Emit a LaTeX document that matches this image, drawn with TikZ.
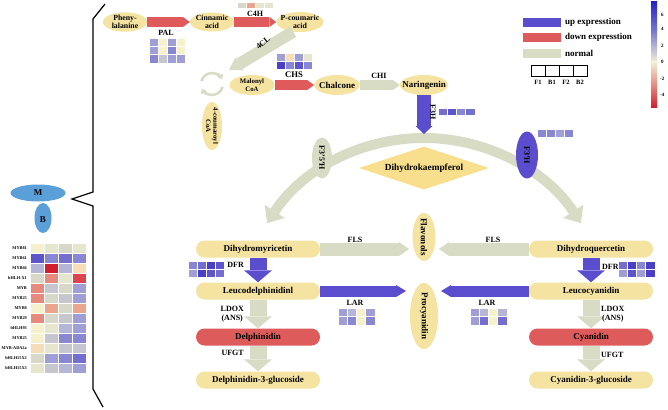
\documentclass[tikz,border=0pt]{standalone}
\usepackage{fontspec}
\setmainfont{Liberation Serif}
\usetikzlibrary{shapes.geometric,arrows.meta,calc}

\definecolor{cpdyel}{HTML}{F5E3A2}
\definecolor{diayel}{HTML}{F7DF8E}
\definecolor{arrred}{HTML}{DF5A5A}
\definecolor{arrgrey}{HTML}{D9DCC5}
\definecolor{arrblue}{HTML}{5A4ECF}
\definecolor{boxred}{HTML}{DE5B5B}
\definecolor{mbblue}{HTML}{5B9FD8}
% heat levels
\definecolor{hb1}{HTML}{4B3FC8}
\definecolor{hb2}{HTML}{5E55CB}
\definecolor{hb3}{HTML}{746ECF}
\definecolor{hb4}{HTML}{8A87D2}
\definecolor{hb5}{HTML}{A09FD5}
\definecolor{hb6}{HTML}{B5B5D6}
\definecolor{hg1}{HTML}{C6C6CE}
\definecolor{hg2}{HTML}{D8D8C8}
\definecolor{hy1}{HTML}{E6E6CE}
\definecolor{hy2}{HTML}{F5F1CC}
\definecolor{ho1}{HTML}{F6DDB8}
\definecolor{hr3}{HTML}{EBA58E}
\definecolor{hr2}{HTML}{E58A7C}
\definecolor{hr1}{HTML}{DD4450}
\definecolor{hr0}{HTML}{CF1F2E}
% colour bar
\definecolor{cb1}{HTML}{2525C5}
\definecolor{cb2}{HTML}{7575D0}
\definecolor{cb3}{HTML}{F2EFD6}
\definecolor{cb4}{HTML}{E58C80}
\definecolor{cb5}{HTML}{D01E2E}

\tikzset{
	cpd/.style={ellipse, fill=cpdyel, inner sep=0pt, align=center, font=\fontsize{7.8}{8.2}\bfseries\selectfont},
	cpdbox/.style={rectangle, rounded corners=8.5pt, fill=cpdyel, minimum width=124pt, minimum height=17pt, inner sep=0pt, font=\fontsize{9}{10}\bfseries\selectfont},
	enz/.style={inner sep=0pt, align=center, font=\fontsize{8}{9}\bfseries\selectfont},
	txt/.style={inner sep=0pt, font=\fontsize{9}{10}\bfseries\selectfont},
	tfname/.style={inner sep=0pt, anchor=east, font=\fontsize{4.3}{5}\bfseries\selectfont},
	redarr/.style={draw=arrred, line width=10pt, -{Triangle[length=7pt,width=10pt,line width=0pt]}},
	greyarr/.style={draw=arrgrey, line width=10pt, -{Triangle[length=7pt,width=10pt,line width=0pt]}},
	clarr/.style={draw=arrgrey, line width=12pt, -{Triangle[length=12pt,width=15pt,line width=0pt]}},
	f3harr/.style={draw=arrblue, line width=14pt, -{Triangle[length=8pt,width=17pt,line width=0pt]}},
	dfrarr/.style={draw=arrblue, line width=17pt, -{Triangle[length=12pt,width=28pt,line width=0pt]}},
	ldoxarr/.style={draw=arrgrey, line width=17pt, -{Triangle[length=12pt,width=28pt,line width=0pt]}},
	flsarr/.style={draw=arrgrey, line width=13pt, -{Triangle[length=10pt,width=14pt,line width=0pt]}},
	lararr/.style={draw=arrblue, line width=11pt, -{Triangle[length=10pt,width=12pt,line width=0pt]}},
	bigarc/.style={draw=arrgrey, line width=10pt, {Triangle[length=14pt,width=24pt,line width=0pt]}-{Triangle[length=14pt,width=24pt,line width=0pt]}},
	cycarr/.style={draw=arrgrey, line width=2.6pt, -{Triangle[length=4.5pt,width=7pt,line width=0pt]}},
	cell/.style={draw=white, line width=.6pt},
}

\begin{document}
\begin{tikzpicture}[x=1pt, y=-1pt]
	\fill[white] (0,0) rectangle (668,409);
	\useasboundingbox (0,0) rectangle (668,409);
	
	% bracket
	\draw[line width=1.2pt] (105,4) -- (93,19) -- (93,192) -- (72,199) -- (93,206) -- (93,389) -- (103,407);
	
	% M / B
	\node[ellipse, fill=mbblue, minimum width=17pt, minimum height=30pt, inner sep=0pt] (bb) at (43,218) {};
	\node[ellipse, fill=mbblue, minimum width=55pt, minimum height=17pt, inner sep=0pt, font=\fontsize{9}{10}\bfseries\selectfont] (mm) at (38,193) {M};
	\node[txt] (bbtxt) at (43,220) {B};
	
	% TF heatmap
	\node[tfname] (tf1) at (27,248) {MYB81};
	\node[tfname] (tf2) at (27,258) {MYB61};
	\node[tfname] (tf3) at (27,268) {MYB66};
	\node[tfname] (tf4) at (27,278) {bHLH-X1};
	\node[tfname] (tf5) at (27,288) {MYB};
	\node[tfname] (tf6) at (27,298) {MYB25};
	\node[tfname] (tf7) at (27,308) {MYB8};
	\node[tfname] (tf8) at (27,318) {MYB29};
	\node[tfname] (tf9) at (27,328) {bHLH93};
	\node[tfname] (tf10) at (27,338) {MYB25};
	\node[tfname] (tf11) at (27,348) {MYB-ADA2a};
	\node[tfname] (tf12) at (27,358) {bHLH15X2};
	\node[tfname] (tf13) at (27,368) {bHLH15X3};
	\filldraw[cell,fill=hy2] (30,243) rectangle +(14,10); \filldraw[cell,fill=hy1] (44,243) rectangle +(14,10); \filldraw[cell,fill=hg2] (58,243) rectangle +(14,10); \filldraw[cell,fill=hy1] (72,243) rectangle +(14,10);
	\filldraw[cell,fill=hb2] (30,253) rectangle +(14,10); \filldraw[cell,fill=hb4] (44,253) rectangle +(14,10); \filldraw[cell,fill=hb3] (58,253) rectangle +(14,10); \filldraw[cell,fill=hb4] (72,253) rectangle +(14,10);
	\filldraw[cell,fill=hb6] (30,263) rectangle +(14,10); \filldraw[cell,fill=hr0] (44,263) rectangle +(14,10); \filldraw[cell,fill=hb6] (58,263) rectangle +(14,10); \filldraw[cell,fill=ho1] (72,263) rectangle +(14,10);
	\filldraw[cell,fill=hg2] (30,273) rectangle +(14,10); \filldraw[cell,fill=hr2] (44,273) rectangle +(14,10); \filldraw[cell,fill=hy1] (58,273) rectangle +(14,10); \filldraw[cell,fill=hr1] (72,273) rectangle +(14,10);
	\filldraw[cell,fill=hr2] (30,283) rectangle +(14,10); \filldraw[cell,fill=hg1] (44,283) rectangle +(14,10); \filldraw[cell,fill=hg2] (58,283) rectangle +(14,10); \filldraw[cell,fill=hb5] (72,283) rectangle +(14,10);
	\filldraw[cell,fill=hr2] (30,293) rectangle +(14,10); \filldraw[cell,fill=hg2] (44,293) rectangle +(14,10); \filldraw[cell,fill=hg1] (58,293) rectangle +(14,10); \filldraw[cell,fill=hb5] (72,293) rectangle +(14,10);
	\filldraw[cell,fill=hy2] (30,303) rectangle +(14,10); \filldraw[cell,fill=hr3] (44,303) rectangle +(14,10); \filldraw[cell,fill=hg2] (58,303) rectangle +(14,10); \filldraw[cell,fill=hr3] (72,303) rectangle +(14,10);
	\filldraw[cell,fill=hr2] (30,313) rectangle +(14,10); \filldraw[cell,fill=hg2] (44,313) rectangle +(14,10); \filldraw[cell,fill=hg1] (58,313) rectangle +(14,10); \filldraw[cell,fill=hb5] (72,313) rectangle +(14,10);
	\filldraw[cell,fill=hy2] (30,323) rectangle +(14,10); \filldraw[cell,fill=hy1] (44,323) rectangle +(14,10); \filldraw[cell,fill=hb6] (58,323) rectangle +(14,10); \filldraw[cell,fill=hb5] (72,323) rectangle +(14,10);
	\filldraw[cell,fill=hy2] (30,333) rectangle +(14,10); \filldraw[cell,fill=hg1] (44,333) rectangle +(14,10); \filldraw[cell,fill=hb4] (58,333) rectangle +(14,10); \filldraw[cell,fill=hb4] (72,333) rectangle +(14,10);
	\filldraw[cell,fill=ho1] (30,343) rectangle +(14,10); \filldraw[cell,fill=hy1] (44,343) rectangle +(14,10); \filldraw[cell,fill=hg1] (58,343) rectangle +(14,10); \filldraw[cell,fill=hg1] (72,343) rectangle +(14,10);
	\filldraw[cell,fill=hg2] (30,353) rectangle +(14,10); \filldraw[cell,fill=hb5] (44,353) rectangle +(14,10); \filldraw[cell,fill=hb4] (58,353) rectangle +(14,10); \filldraw[cell,fill=hb3] (72,353) rectangle +(14,10);
	\filldraw[cell,fill=hy1] (30,363) rectangle +(14,10); \filldraw[cell,fill=hg1] (44,363) rectangle +(14,10); \filldraw[cell,fill=hb6] (58,363) rectangle +(14,10); \filldraw[cell,fill=hb5] (72,363) rectangle +(14,10);
	
	% top row
	\node[cpd, minimum width=44pt, minimum height=19pt] (phe) at (125,22) {Pheny-\\lalanine};
	\node[cpd, minimum width=44pt, minimum height=19pt, inner xsep=-1pt, inner ysep=-1.5pt] (cin) at (212,22) {Cinnamic\\acid};
	\node[cpd, minimum width=47pt, minimum height=20pt, inner xsep=-3.5pt, inner ysep=-1.5pt] (pcou) at (300,22) {P-coumaric\\acid};
	\draw[redarr] (phe) -- (cin);
	\draw[redarr] (cin) -- (pcou);
	\node[enz] (pal) at (166,33) {PAL};
	\node[enz] (c4h) at (255,13.5) {C4H};
	% PAL
	\filldraw[cell,fill=hb5] (149,38) rectangle +(9,8.3); \filldraw[cell,fill=hy2] (158,38) rectangle +(9,8.3); \filldraw[cell,fill=hb5] (167,38) rectangle +(9,8.3); \filldraw[cell,fill=hy2] (176,38) rectangle +(9,8.3);
	\filldraw[cell,fill=hb5] (149,46.3) rectangle +(9,8.3); \filldraw[cell,fill=hy2] (158,46.3) rectangle +(9,8.3); \filldraw[cell,fill=hb4] (167,46.3) rectangle +(9,8.3); \filldraw[cell,fill=hy2] (176,46.3) rectangle +(9,8.3);
	\filldraw[cell,fill=hb4] (149,54.6) rectangle +(9,8.3); \filldraw[cell,fill=hg1] (158,54.6) rectangle +(9,8.3); \filldraw[cell,fill=hb5] (167,54.6) rectangle +(9,8.3); \filldraw[cell,fill=hb5] (176,54.6) rectangle +(9,8.3);
	% C4H
	\filldraw[cell,fill=hg2] (237,2) rectangle +(9,6.5); \filldraw[cell,fill=hr3] (246,2) rectangle +(9,6.5); \filldraw[cell,fill=hy1] (255,2) rectangle +(9,6.5); \filldraw[cell,fill=hy1] (264,2) rectangle +(9,6.5);
	
	% 4CL
	\coordinate (clend) at (229,70);
	\draw[clarr] (pcou.235) -- (clend);
	\node[enz, rotate=40] (cl4) at (263,43) {4CL};
	
	% cycle
	\coordinate (cyc) at (212,84);
	\draw[cycarr] ($(cyc)+(195:11)$) arc[start angle=195, end angle=335, radius=11];
	\draw[cycarr] ($(cyc)+(15:11)$) arc[start angle=15, end angle=155, radius=11];
	\node[cpd, rotate=-90, minimum width=48pt, minimum height=20pt, inner xsep=-1.5pt, inner ysep=-0.5pt, font=\fontsize{6.8}{7.2}\bfseries\selectfont] (cou) at (212,126) {4-coumaroyl\\CoA};
	
	% second row
	\node[cpd, minimum width=45pt, minimum height=20pt, font=\fontsize{6.8}{7.4}\bfseries\selectfont] (mal) at (252,85) {Malonyl\\CoA};
	\node[cpd, minimum width=45pt, minimum height=20pt, inner xsep=-2pt, font=\fontsize{9}{10}\bfseries\selectfont] (chal) at (337,85) {Chalcone};
	\node[cpd, minimum width=48pt, minimum height=20pt, inner xsep=-5.5pt, font=\fontsize{9}{10}\bfseries\selectfont] (nar) at (424,85) {Naringenin};
	\draw[redarr] (mal) -- (chal);
	\draw[greyarr] (chal) -- (nar);
	\node[enz, font=\fontsize{8.6}{9}\bfseries\selectfont] (chs) at (294,75) {CHS};
	\node[enz] (chi) at (379,76) {CHI};
	% CHS
	\filldraw[cell,fill=hb5] (276,53) rectangle +(9,8); \filldraw[cell,fill=ho1] (285,53) rectangle +(9,8); \filldraw[cell,fill=hb5] (294,53) rectangle +(9,8); \filldraw[cell,fill=hy1] (303,53) rectangle +(9,8);
	\filldraw[cell,fill=hb1] (276,61) rectangle +(9,8); \filldraw[cell,fill=hb4] (285,61) rectangle +(9,8); \filldraw[cell,fill=hb2] (294,61) rectangle +(9,8); \filldraw[cell,fill=hb4] (303,61) rectangle +(9,8);
	
	% arc
	\coordinate (arccen) at (424,325);
	\coordinate (arctop) at (424,134);
	\draw[bigarc] ($(arccen)+(213:187)$) arc[start angle=213, end angle=327, radius=187];
	\draw[f3harr] (nar) -- (arctop);
	\node[enz, rotate=-90] (f3h) at (433,112) {F3H};
	% F3H
	\filldraw[cell,fill=hb3] (438,108) rectangle +(9.25,7); \filldraw[cell,fill=hb2] (447.25,108) rectangle +(9.25,7); \filldraw[cell,fill=hb4] (456.5,108) rectangle +(9.25,7); \filldraw[cell,fill=hb3] (465.75,108) rectangle +(9.25,7);
	
	\node[ellipse, fill=arrgrey, rotate=-90, minimum width=41pt, minimum height=20pt, inner sep=0pt, font=\fontsize{8}{9}\bfseries\selectfont] (f35h) at (322,158) {F3'5'H};
	\node[ellipse, fill=arrblue, rotate=-90, minimum width=47pt, minimum height=22pt, inner sep=0pt, font=\fontsize{8}{9}\bfseries\selectfont] (f3ph) at (527,155) {F3'H};
	% F3'H
	\filldraw[cell,fill=hb4] (537,129) rectangle +(9,8); \filldraw[cell,fill=hb4] (546,129) rectangle +(9,8); \filldraw[cell,fill=hb5] (555,129) rectangle +(9,8); \filldraw[cell,fill=hb4] (564,129) rectangle +(9,8);
	
	\node[diamond, aspect=3, fill=diayel, minimum width=130pt, minimum height=43pt, inner sep=0pt, font=\fontsize{9.3}{10}\bfseries\selectfont] (dhk) at (424,168) {Dihydrokaempferol};
	
	% middle
	\node[cpd, rotate=-90, minimum width=48pt, minimum height=23pt, inner xsep=-1.5pt, font=\fontsize{9}{10}\bfseries\selectfont] (flav) at (424,237) {Flavonols};
	\node[cpd, rotate=-90, minimum width=65pt, minimum height=28pt, font=\fontsize{9}{10}\bfseries\selectfont] (proc) at (424,316) {Procyanidin};
	
	% left column
	\node[cpdbox] (dmy) at (258,249) {Dihydromyricetin};
	\node[cpdbox] (ldp) at (258,291) {Leucodelphinidinl};
	\node[cpdbox, fill=boxred] (dph) at (258,337) {Delphinidin};
	\node[cpdbox] (dpg) at (258,380) {Delphinidin-3-glucoside};
	\draw[dfrarr] (dmy) -- (ldp);
	\draw[ldoxarr] (ldp) -- (dph);
	\draw[ldoxarr] (dph) -- (dpg);
	\node[enz, anchor=east] (dfrl) at (244,265) {DFR};
	\node[enz, anchor=east] (ldoxl) at (244,314) {LDOX\\(ANS)};
	\node[enz, anchor=east] (ufgtl) at (244,353) {UFGT};
	% DFR left
	\filldraw[cell,fill=hb4] (188,261) rectangle +(9,8); \filldraw[cell,fill=hb3] (197,261) rectangle +(9,8); \filldraw[cell,fill=hb1] (206,261) rectangle +(9,8); \filldraw[cell,fill=hb2] (215,261) rectangle +(9,8);
	\filldraw[cell,fill=hb5] (188,269) rectangle +(9,8); \filldraw[cell,fill=hb1] (197,269) rectangle +(9,8); \filldraw[cell,fill=hb2] (206,269) rectangle +(9,8); \filldraw[cell,fill=hb3] (215,269) rectangle +(9,8);
	
	% right column
	\node[cpdbox] (dqu) at (591,249) {Dihydroquercetin};
	\node[cpdbox] (lcy) at (591,291) {Leucocyanidin};
	\node[cpdbox, fill=boxred] (cya) at (591,337) {Cyanidin};
	\node[cpdbox] (cyg) at (591,380) {Cyanidin-3-glucoside};
	\draw[dfrarr] (dqu) -- (lcy);
	\draw[ldoxarr] (lcy) -- (cya);
	\draw[ldoxarr] (cya) -- (cyg);
	\node[enz, anchor=west] (dfrr) at (602,267) {DFR};
	\node[enz, anchor=west] (ldoxr) at (601,314) {LDOX\\(ANS)};
	\node[enz, anchor=west] (ufgtr) at (601,355) {UFGT};
	% DFR right
	\filldraw[cell,fill=hb3] (618,261) rectangle +(9.25,8); \filldraw[cell,fill=hb1] (627.25,261) rectangle +(9.25,8); \filldraw[cell,fill=hb4] (636.5,261) rectangle +(9.25,8); \filldraw[cell,fill=hb1] (645.75,261) rectangle +(9.25,8);
	\filldraw[cell,fill=hb5] (618,269) rectangle +(9.25,8); \filldraw[cell,fill=hb2] (627.25,269) rectangle +(9.25,8); \filldraw[cell,fill=hb5] (636.5,269) rectangle +(9.25,8); \filldraw[cell,fill=hb1] (645.75,269) rectangle +(9.25,8);
	
	% FLS / LAR
	\coordinate (flsl) at (409,249);
	\coordinate (flsr) at (439,249);
	\coordinate (larl) at (406,291);
	\coordinate (larr) at (441,291);
	\draw[flsarr] (dmy.east) -- (flsl);
	\draw[flsarr] (dqu.west) -- (flsr);
	\draw[lararr] (ldp.east) -- (larl);
	\draw[lararr] (lcy.west) -- (larr);
	\node[enz] (flsa) at (355,240) {FLS};
	\node[enz] (flsb) at (493,240) {FLS};
	\node[enz] (lara) at (355,303) {LAR};
	\node[enz] (larb) at (487,303) {LAR};
	% LAR
	\filldraw[cell,fill=hb5] (338,308) rectangle +(9.25,8.5); \filldraw[cell,fill=hb6] (347.25,308) rectangle +(9.25,8.5); \filldraw[cell,fill=hy2] (356.5,308) rectangle +(9.25,8.5); \filldraw[cell,fill=hb5] (365.75,308) rectangle +(9.25,8.5);
	\filldraw[cell,fill=hb5] (338,316.5) rectangle +(9.25,8.5); \filldraw[cell,fill=hb4] (347.25,316.5) rectangle +(9.25,8.5); \filldraw[cell,fill=hy2] (356.5,316.5) rectangle +(9.25,8.5); \filldraw[cell,fill=hb4] (365.75,316.5) rectangle +(9.25,8.5);
	\filldraw[cell,fill=hb5] (470,308) rectangle +(9.25,8.5); \filldraw[cell,fill=hb6] (479.25,308) rectangle +(9.25,8.5); \filldraw[cell,fill=hy2] (488.5,308) rectangle +(9.25,8.5); \filldraw[cell,fill=hb6] (497.75,308) rectangle +(9.25,8.5);
	\filldraw[cell,fill=hb5] (470,316.5) rectangle +(9.25,8.5); \filldraw[cell,fill=hb3] (479.25,316.5) rectangle +(9.25,8.5); \filldraw[cell,fill=hy2] (488.5,316.5) rectangle +(9.25,8.5); \filldraw[cell,fill=hb3] (497.75,316.5) rectangle +(9.25,8.5);
	
	% legend
	\fill[arrblue] (523,18) rectangle (561,27);
	\fill[arrred] (523,33) rectangle (561,42);
	\fill[arrgrey] (523,49) rectangle (561,58);
	\node[txt, anchor=west] (lgup) at (565,22) {up expresstion};
	\node[txt, anchor=west] (lgdown) at (565,37.5) {down expresstion};
	\node[txt, anchor=west] (lgnorm) at (565,53) {normal};
	\draw[line width=.6pt] (531,65) rectangle (587,76);
	\draw[line width=.6pt] (545,65) -- (545,76);
	\draw[line width=.6pt] (559,65) -- (559,76);
	\draw[line width=.6pt] (573,65) -- (573,76);
	\node[txt, font=\fontsize{6.5}{7}\bfseries\selectfont] (lf1) at (538,82) {F1};
	\node[txt, font=\fontsize{6.5}{7}\bfseries\selectfont] (lb1) at (552,82) {B1};
	\node[txt, font=\fontsize{6.5}{7}\bfseries\selectfont] (lf2) at (566,82) {F2};
	\node[txt, font=\fontsize{6.5}{7}\bfseries\selectfont] (lb2) at (580,82) {B2};
	
	% colour bar
	\shade[top color=cb1, bottom color=cb2] (651,2) rectangle (657,30);
	\shade[top color=cb2, bottom color=cb3] (651,30) rectangle (657,62);
	\shade[top color=cb3, bottom color=cb4] (651,62) rectangle (657,85);
	\shade[top color=cb4, bottom color=cb5] (651,85) rectangle (657,107);
	\node[txt, anchor=west, font=\fontsize{5}{6}\bfseries\selectfont] (cbs6) at (661,15) {6};
	\node[txt, anchor=west, font=\fontsize{5}{6}\bfseries\selectfont] (cbs4) at (661,29) {4};
	\node[txt, anchor=west, font=\fontsize{5}{6}\bfseries\selectfont] (cbs2) at (661,46) {2};
	\node[txt, anchor=west, font=\fontsize{5}{6}\bfseries\selectfont] (cbs0) at (661,62) {0};
	\node[txt, anchor=west, font=\fontsize{5}{6}\bfseries\selectfont] (cbm2) at (660,79) {-2};
	\node[txt, anchor=west, font=\fontsize{5}{6}\bfseries\selectfont] (cbm4) at (660,95) {-4};
\end{tikzpicture}
\end{document}
